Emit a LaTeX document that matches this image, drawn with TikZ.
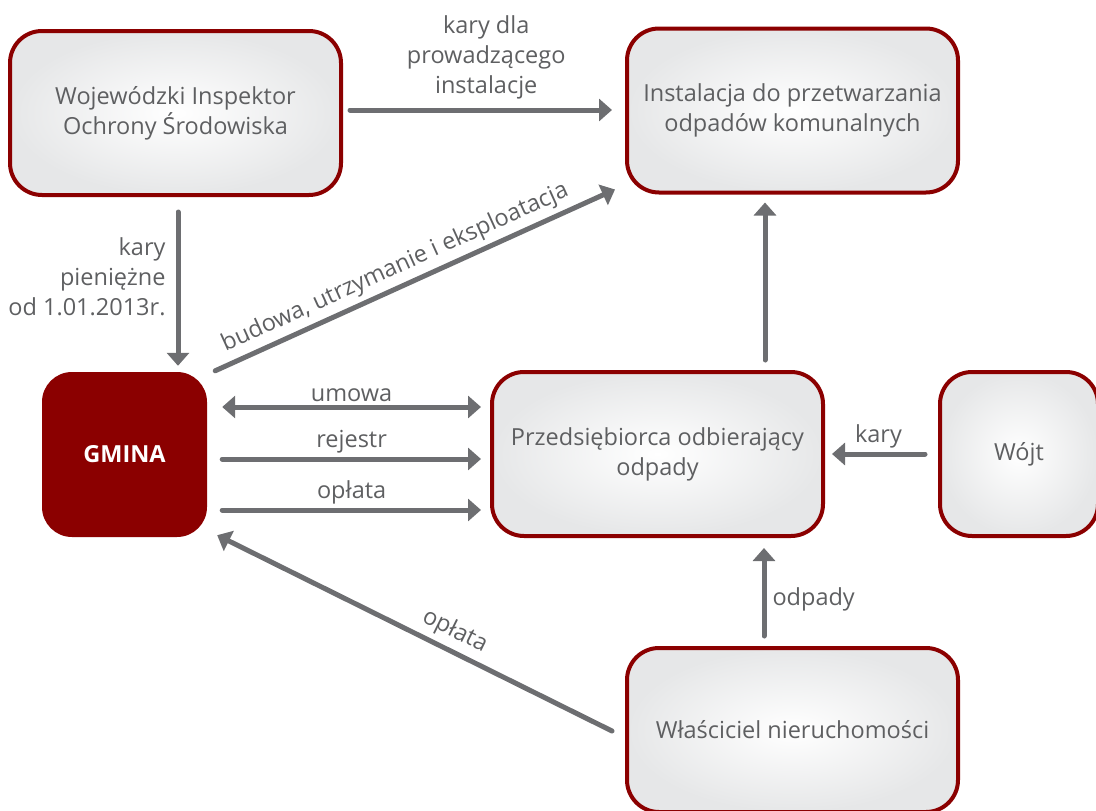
\documentclass[tikz,border=0pt]{standalone}
\usepackage{fontspec}
\setmainfont{Open Sans}
\usetikzlibrary{arrows.meta,calc,shadings}
\definecolor{bord}{HTML}{8B0000}
\definecolor{arrg}{HTML}{6D6E71}
\definecolor{txtg}{HTML}{5E5F61}
\definecolor{boxedge}{HTML}{E6E7E8}
\begin{document}
\begin{tikzpicture}[x=1pt,y=-1pt,
  box/.style={draw=bord, line width=4pt, rounded corners=32pt, inner color=white, outer color=boxedge,
    text=txtg, align=center, font=\fontsize{23.5}{30}\selectfont,
    minimum width=331pt, minimum height=164pt, inner sep=0pt},
  gminabox/.style={fill=bord, rounded corners=30pt, minimum width=165pt, minimum height=165pt,
    inner sep=0pt, text=white, font=\fontsize{23.5}{30}\selectfont\bfseries},
  arr/.style={draw=arrg, line width=5pt, line cap=round, -{Triangle[length=13pt,width=22pt]}},
  darr/.style={draw=arrg, line width=5pt, {Triangle[length=13pt,width=22pt]}-{Triangle[length=13pt,width=22pt]}},
  lbl/.style={text=txtg, font=\fontsize{23.5}{30}\selectfont, align=center, inner sep=2pt}
]
\useasboundingbox (0,0) rectangle (1096,811);

\node[box] (wios) at (175.5,113) {Wojewódzki Inspektor\\Ochrony Środowiska};
\node[box] (inst) at (792.5,110.5) {Instalacja do przetwarzania\\odpadów komunalnych};
\node[gminabox] (gmina) at (124.5,454.5) {GMINA};
\node[box] (przed) at (657.5,454) {Przedsiębiorca odbierający\\odpady};
\node[box, minimum width=158pt] (wojt) at (1019,454) {Wójt};
\node[box] (wlas) at (792.5,730) {Właściciel nieruchomości};

% WIOS -> Instalacja
\draw[arr] ($(wios.east)+(7,-3)$) -- ($(inst.west)+(-13,-0.5)$)
  node[lbl, pos=0.52, above=6pt] {kary dla\\prowadzącego\\instalacje};
% WIOS -> GMINA
\draw[arr] ($(wios.south)+(2.5,15)$) -- ($(wios.south |- gmina.north)+(2.5,-6)$)
  node[lbl, pos=0.42, left=8pt, align=right] {kary\hspace{8pt}\\pieniężne\\od 1.01.2013r.};
% GMINA -> Instalacja
\draw[arr] ($(gmina.north east)+(8,-1)$) -- ($(inst.south west)+(-10,-5)$)
  node[lbl, pos=0.47, above=3pt, sloped] {budowa, utrzymanie i eksploatacja};
% GMINA <-> Przedsiebiorca
\draw[darr] ($(gmina.east)+(15,-47.5)$) -- ($(przed.west)+(-9,-47)$)
  node[lbl, midway, above=1pt] {umowa};
\draw[arr] ($(gmina.east)+(15,4.5)$) -- ($(przed.west)+(-9,5)$)
  node[lbl, midway, above=1pt] {rejestr};
\draw[arr] ($(gmina.east)+(15,55.5)$) -- ($(przed.west)+(-9,56)$)
  node[lbl, midway, above=1pt] {opłata};
% Przedsiebiorca -> Instalacja
\draw[arr] ($(przed.north)+(107.5,-10)$) -- ($(przed.north |- inst.south)+(107.5,8)$);
% Wojt -> Przedsiebiorca
\draw[arr] ($(wojt.west)+(-13,0)$) -- ($(przed.east)+(7,0)$)
  node[lbl, midway, above=1pt] {kary};
% Wlasciciel -> Przedsiebiorca
\draw[arr] ($(wlas.north)+(-28.5,-10)$) -- ($(wlas.north |- przed.south)+(-28.5,10)$)
  node[lbl, pos=0.42, right=4pt] {odpady};
% Wlasciciel -> GMINA
\draw[arr] ($(wlas.west)+(-13,1)$) -- ($(gmina.south east)+(10,-2)$)
  node[lbl, pos=0.42, above=3pt, sloped] {opłata};
\end{tikzpicture}
\end{document}
